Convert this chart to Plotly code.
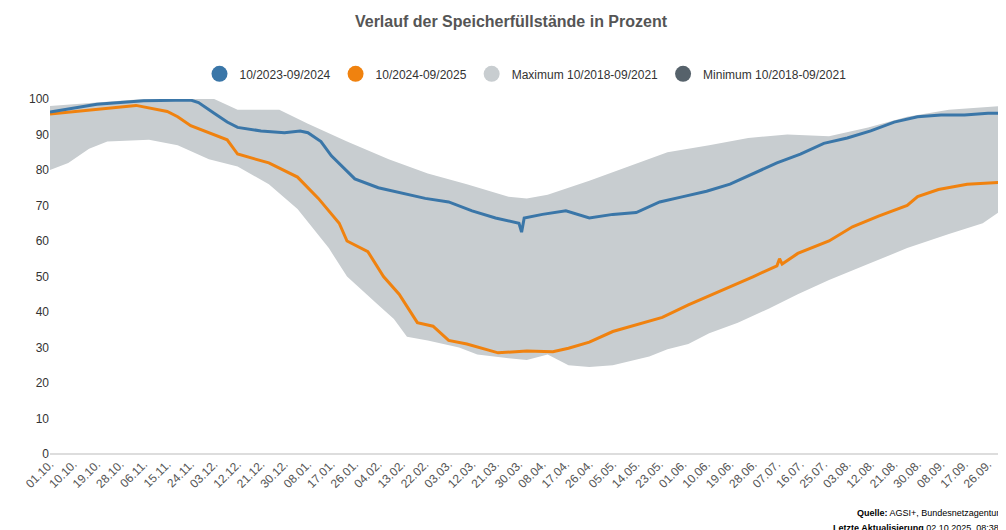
import plotly.graph_objects as go

# Tage seit 01.10. und Füllstände in Prozent
tage_2324 = [0, 9, 18, 27, 36, 54, 57, 63, 68, 72, 81, 90, 96, 99, 104, 108, 117, 126, 135, 144, 153,
             162, 171, 180, 181, 182, 189, 198, 207, 216, 225, 234, 243, 252, 261, 270, 279, 288, 297,
             306, 315, 324, 333, 342, 351, 360, 364]
werte_2324 = [96.3, 97.5, 98.5, 99, 99.5, 99.7, 99, 96, 93.5, 92, 91, 90.5, 91, 90.5, 88, 84, 77.5, 75,
              73.5, 72, 71, 68.5, 66.5, 65, 62.5, 66.5, 67.5, 68.5, 66.5, 67.5, 68, 71, 72.5, 74, 76, 79,
              82, 84.5, 87.5, 89, 91, 93.5, 95, 95.5, 95.5, 96, 96]

tage_2425 = [0, 9, 18, 27, 33, 45, 49, 54, 63, 68, 72, 84, 95, 103, 111, 114, 122, 128, 134, 141, 147,
             153, 160, 172, 183, 193, 199, 207, 216, 226, 235, 245, 253, 264, 270, 279, 280, 281, 287,
             299, 308, 318, 329, 333, 341, 352, 364]
werte_2425 = [95.8, 96.5, 97, 97.8, 98.2, 96.5, 95, 92.5, 90, 88.5, 84.5, 82, 78, 72, 65, 60, 57, 50,
              45, 37, 36, 32, 31, 28.5, 29, 28.8, 29.8, 31.5, 34.5, 36.5, 38.5, 42, 44.5, 48, 50, 53,
              55, 53.5, 56.5, 60, 64, 67, 70, 72.5, 74.5, 76, 76.5]

tage_max = [0, 18, 36, 63, 72, 88, 99, 114, 130, 145, 160, 176, 183, 191, 207, 222, 237, 253, 268,
            283, 299, 314, 329, 345, 364]
werte_max = [98, 99, 100, 100, 97, 97, 93, 88, 83, 79, 76, 72.5, 72, 73, 77, 81, 85, 87, 89, 90,
             89.5, 92, 95, 97, 98]

tage_min = [0, 7, 15, 22, 38, 49, 61, 72, 84, 95, 107, 114, 126, 132, 137, 145, 157, 164, 176, 183,
            191, 199, 207, 216, 222, 230, 237, 245, 253, 264, 276, 287, 299, 314, 329, 345, 358, 364]
werte_min = [80, 82, 86, 88, 88.5, 87, 83, 81, 76, 69, 58, 50, 42, 38, 33, 32, 30, 28, 27, 26.5, 28,
             25, 24.5, 25, 26, 27.5, 29.5, 31, 34, 37, 41, 45, 49, 53.5, 58, 62, 65, 68]

tick_tage = list(range(0, 361, 9))
tick_labels = ['01.10.', '10.10.', '19.10.', '28.10.', '06.11.', '15.11.', '24.11.', '03.12.', '12.12.',
               '21.12.', '30.12.', '08.01.', '17.01.', '26.01.', '04.02.', '13.02.', '22.02.', '03.03.',
               '12.03.', '21.03.', '30.03.', '08.04.', '17.04.', '26.04.', '05.05.', '14.05.', '23.05.',
               '01.06.', '10.06.', '19.06.', '28.06.', '07.07.', '16.07.', '25.07.', '03.08.', '12.08.',
               '21.08.', '30.08.', '08.09.', '17.09.', '26.09.']

blau = '#3a76a8'
orange = '#f0820f'
grau = '#c8cdd0'
dunkel = '#56626b'

fig = go.Figure()

# Band Maximum/Minimum
fig.add_trace(go.Scatter(x=tage_max + tage_min[::-1], y=werte_max + werte_min[::-1],
                         fill='toself', fillcolor=grau, line=dict(width=0), mode='lines',
                         hoverinfo='skip', showlegend=False))
fig.add_trace(go.Scatter(x=tage_2425, y=werte_2425, mode='lines',
                         line=dict(color=orange, width=3), showlegend=False))
fig.add_trace(go.Scatter(x=tage_2324, y=werte_2324, mode='lines',
                         line=dict(color=blau, width=3), showlegend=False))

# Legendeneinträge
for name, farbe in [('10/2023-09/2024', blau), ('10/2024-09/2025', orange),
                    ('Maximum 10/2018-09/2021', grau), ('Minimum 10/2018-09/2021', dunkel)]:
    fig.add_trace(go.Scatter(x=[None], y=[None], mode='markers', name=name,
                             marker=dict(color=farbe, size=18)))

fig.update_layout(
    width=1006, height=530,
    paper_bgcolor='white', plot_bgcolor='white',
    font=dict(family='Liberation Sans, Arial', color='#333', size=12),
    title=dict(text='<b>Verlauf der Speicherfüllstände in Prozent</b>', x=0.5, y=0.985, yanchor='top',
               font=dict(size=16, color='#555')),
    margin=dict(l=42, r=13, t=91, b=84),
    legend=dict(orientation='h', x=0.5, xanchor='center', y=1.03, yanchor='bottom',
                font=dict(size=12, color='#333'), itemwidth=30),
    xaxis=dict(range=[0, 365], tickvals=tick_tage, ticktext=tick_labels, tickangle=-45,
               automargin=False, showgrid=False, zeroline=False, showline=False,
               tickfont=dict(size=12, color='#555')),
    yaxis=dict(range=[0, 100], tickvals=list(range(0, 101, 10)), showgrid=False, automargin=False,
               zeroline=True, zerolinecolor='#ddd', tickfont=dict(size=12, color='#333')),
    annotations=[
        dict(text='<b>Quelle:</b> AGSI+, Bundesnetzagentur', x=1, xref='paper', xanchor='right',
             y=-0.166, yref='paper', yanchor='middle', showarrow=False, font=dict(size=9, color='#000')),
        dict(text='<b>Letzte Aktualisierung</b> 02.10.2025, 08:38', x=1, xref='paper', xanchor='right',
             y=-0.208, yref='paper', yanchor='middle', showarrow=False, font=dict(size=9, color='#000')),
    ],
)

fig.write_html("out.html")
